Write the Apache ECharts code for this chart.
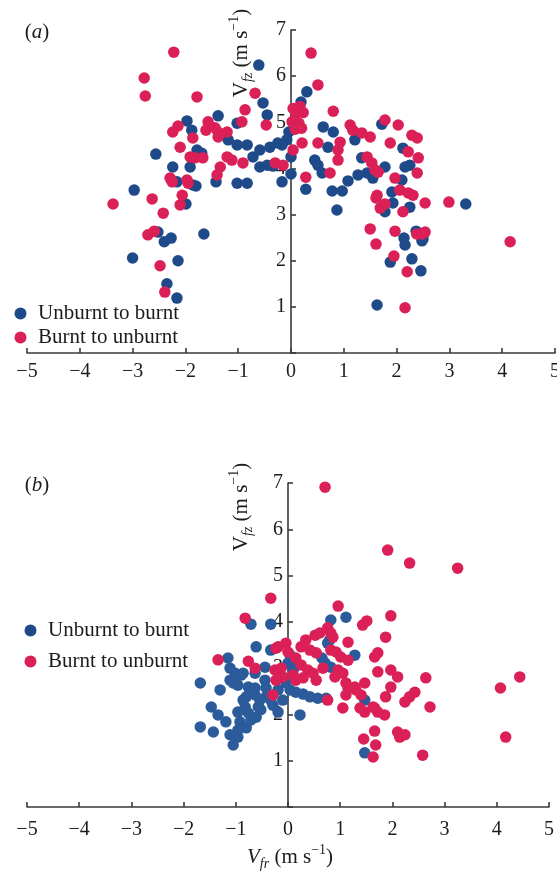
<!DOCTYPE html>
<html>
<head>
<meta charset="utf-8">
<script src="https://cdn.jsdelivr.net/npm/echarts@6/dist/echarts.min.js"></script>
<style>
  html, body { margin: 0; padding: 0; background: #ffffff; }
  #chart { width: 557px; height: 876px; }
</style>
</head>
<body>
<div id="chart"></div>
<script>
// Axis ticks (both panels share them)
const xTickValues = [-5, -4, -3, -2, -1, 0, 1, 2, 3, 4, 5];
const yTickValues = [1, 2, 3, 4, 5, 6, 7];

const seriesNames = ['Unburnt to burnt', 'Burnt to unburnt'];

// Panel (a): [V_fr, V_fz] in m/s
const aUnburntToBurnt = [
  [-2.97,3.53],[-1.99,3.23],[-1.80,3.62],[-2.52,2.62],[-2.40,2.41],[-2.27,2.49],[-1.65,2.58],
  [-3.00,2.06],[-2.14,2.00],[-2.35,1.50],[-2.16,1.19],[-2.16,3.71],[-1.42,3.71],[-1.02,3.68],
  [-0.83,3.68],[-2.56,4.31],[-0.61,6.24],[-0.53,5.42],[-0.45,5.16],[-1.38,5.14],[-1.97,5.03],
  [-1.88,4.83],[-1.02,4.98],[-1.19,4.62],[-1.02,4.51],[-0.83,4.51],[-0.59,4.40],[-0.40,4.46],
  [-0.25,4.55],[-0.08,4.62],[-0.72,4.25],[-1.78,4.40],[-1.69,4.33],[-2.24,4.03],[-1.91,4.03],
  [-0.59,4.03],[-0.45,4.07],[-0.34,4.05],[-0.17,3.71],[-1.86,3.64],[-0.17,4.51],[-0.04,4.79],
  [1.63,1.04],[1.88,1.97],[2.29,2.04],[2.46,1.78],[2.14,2.49],[2.16,2.34],[2.37,2.64],
  [2.48,2.43],[2.50,2.47],[3.31,3.23],[0.87,3.10],[0.28,3.55],[0.78,3.51],[0.97,3.51],
  [1.08,3.73],[1.91,3.49],[1.93,3.25],[1.78,3.06],[2.25,3.16],[0.30,5.66],[0.19,5.44],
  [0.61,4.90],[0.80,4.79],[1.21,4.62],[1.72,4.96],[0.70,4.46],[0.45,4.18],[0.51,4.07],
  [0.59,3.90],[0.00,4.25],[0.00,3.88],[1.27,3.86],[1.44,3.90],[1.55,3.79],[1.34,4.23],
  [1.78,4.03],[2.12,4.44],[2.16,4.03],[2.25,4.07],[2.10,3.75]
];
const aBurntToUnburnt = [
  [-2.22,6.52],[-2.78,5.96],[-2.76,5.57],[-1.78,5.55],[0.38,6.50],[0.51,5.81],[-3.37,3.23],
  [-2.63,3.34],[-2.42,3.03],[-2.71,2.56],[-2.59,2.64],[-2.48,1.89],[-2.39,1.32],[-2.06,3.42],
  [-2.10,3.21],[-2.25,3.71],[-1.95,3.68],[-0.68,5.63],[-0.87,5.27],[-0.47,4.94],[-1.57,5.01],
  [-2.14,4.92],[-2.24,4.79],[-1.44,4.88],[-1.38,4.79],[-1.61,4.83],[-1.21,4.79],[-0.93,5.01],
  [-1.86,4.66],[-1.38,4.68],[-2.10,4.46],[-1.91,4.25],[-1.82,4.23],[-1.67,4.23],[-1.21,4.25],
  [-1.12,4.18],[-0.91,4.12],[-1.34,4.03],[-2.29,3.79],[-1.97,3.75],[-1.40,3.86],[-0.30,4.12],
  [-0.15,4.07],[0.04,5.30],[0.17,5.34],[0.09,5.19],[0.23,5.21],[0.02,5.01],[0.15,4.98],
  [0.08,4.85],[0.20,4.87],[0.80,5.24],[1.12,4.94],[1.17,4.83],[1.34,4.77],[1.50,4.68],
  [1.78,5.05],[2.03,4.94],[2.29,4.72],[2.39,4.66],[0.51,4.55],[0.21,4.55],[0.04,4.40],
  [0.93,4.57],[0.89,4.40],[0.89,4.18],[0.74,3.90],[0.28,3.81],[1.44,4.25],[1.53,4.12],
  [1.59,3.97],[1.65,3.92],[1.88,4.55],[2.22,4.36],[2.41,4.23],[2.39,3.90],[1.97,3.79],
  [2.06,3.53],[2.22,3.47],[2.31,3.42],[1.63,3.42],[1.50,2.69],[1.61,2.36],[1.97,2.64],
  [1.95,2.10],[2.20,1.76],[2.16,0.98],[4.15,2.41],[2.99,3.27],[2.54,3.25],[2.12,3.06],
  [2.38,2.58],[2.48,2.58],[2.54,2.62],[1.61,3.36],[1.69,3.14],[1.78,3.23]
];

// Panel (b): [V_fr, V_fz] in m/s
const bUnburntToBurnt = [
  [0.82,4.04],[1.11,4.10],[-0.33,3.95],[-0.71,3.95],[0.80,3.61],[0.76,3.54],[1.28,3.28],
  [1.47,1.17],[1.47,2.31],[0.23,1.99],[0.65,3.22],[0.71,3.11],[0.82,3.02],[0.04,3.28],
  [0.00,3.11],[0.13,3.07],[0.10,2.96],[-0.04,2.68],[0.04,2.53],[0.15,2.48],[0.29,2.44],
  [0.42,2.38],[0.57,2.35],[0.73,2.35],[-0.61,3.46],[-0.33,3.39],[-1.15,3.22],[-0.44,3.02],
  [-1.11,3.00],[-0.90,2.85],[-1.11,2.74],[-0.96,2.63],[-0.76,2.59],[-0.63,2.57],[-1.68,2.68],
  [-1.30,2.53],[-0.80,2.38],[-0.63,2.42],[-0.54,2.31],[-0.42,2.38],[-0.33,2.31],[-0.42,2.57],
  [-1.47,2.16],[-1.34,1.99],[-1.19,1.84],[-0.96,2.05],[-0.82,2.16],[-0.76,2.03],[-0.92,1.84],
  [-0.96,1.66],[-0.80,1.71],[-0.71,1.88],[-0.57,2.16],[-0.52,2.10],[-0.61,1.94],[-1.68,1.73],
  [-1.43,1.62],[-1.11,1.56],[-0.96,1.51],[-1.05,1.34],[-0.86,2.31],[-1.01,2.89],[-0.86,2.89],
  [-1.05,2.68],[-0.63,2.89],[-0.44,2.74],[-0.19,2.53],[-0.29,2.20],[-0.10,2.31],[-0.19,2.05]
];
const bBurntToUnburnt = [
  [0.71,6.91],[1.91,5.55],[2.33,5.27],[3.25,5.16],[-0.33,4.51],[0.96,4.34],[1.97,4.13],
  [1.43,3.93],[1.51,4.02],[1.87,3.67],[1.15,3.56],[0.76,3.87],[0.82,3.76],[-0.04,3.54],
  [-0.19,3.46],[1.72,3.33],[1.66,3.24],[4.44,2.81],[4.07,2.57],[4.17,1.51],[2.64,2.79],
  [2.72,2.16],[2.58,1.12],[2.43,2.48],[2.33,2.38],[2.24,2.27],[2.10,2.81],[1.97,2.96],
  [1.97,2.59],[1.87,2.38],[1.72,2.92],[2.10,1.62],[2.14,1.51],[2.24,1.56],[1.85,1.99],
  [1.72,2.05],[1.66,2.14],[1.66,1.64],[1.68,1.34],[1.63,1.08],[1.45,1.47],[1.38,2.14],
  [1.47,2.05],[1.05,2.14],[0.76,2.31],[1.15,2.57],[1.30,2.53],[1.47,2.68],[1.40,2.42],
  [1.11,2.68],[-0.29,2.42],[-0.82,4.08],[-0.23,3.43],[0.00,3.35],[-1.34,3.18],[-0.76,3.15],
  [-0.63,3.00],[-0.25,2.96],[-0.13,3.00],[-0.10,2.81],[-0.23,2.74],[0.34,3.61],[0.52,3.71],
  [0.61,3.76],[0.86,3.67],[0.25,3.46],[0.42,3.39],[0.54,3.33],[0.82,3.39],[0.92,3.35],
  [1.01,3.24],[1.15,3.17],[0.15,3.22],[0.25,3.07],[0.38,2.96],[0.48,2.89],[0.54,2.74],
  [0.10,2.85],[0.15,2.74],[0.29,2.79],[0.67,3.00],[0.96,2.96],[1.05,2.89],[0.90,2.81],
  [1.28,2.59],[1.11,2.42],[1.63,2.16]
];

const SERIF = 'Liberation Serif';
const INK = '#1c1c1c';
const AXIS = '#3a3a3a';
const BLUE_A = '#1f4a8a';
const BLUE_B = '#2c5b9b';
const RED = '#db1f57';

const gridBoxes = [
  { left: 27, right: 2, top: 30, height: 323 },
  { left: 27, right: 8, top: 483, height: 324 }
];

const fmtX = v => {
  if (xTickValues.indexOf(v) < 0) return '';
  return v < 0 ? '\u2212' + Math.abs(v) : String(v);
};
const fmtY = v => (yTickValues.indexOf(v) < 0 ? '' : String(v));

function xAxisFor(gridIndex, labelMargin) {
  return {
    gridIndex, type: 'value', min: -5, max: 5, interval: 1,
    axisLine: { onZero: false, lineStyle: { color: AXIS, width: 1.6 } },
    axisTick: { inside: true, length: 5, lineStyle: { color: AXIS, width: 1.6 } },
    axisLabel: { formatter: fmtX, fontFamily: SERIF, fontSize: 20, color: INK, margin: labelMargin },
    splitLine: { show: false }
  };
}
function yAxisFor(gridIndex) {
  return {
    gridIndex, type: 'value', min: 0, max: 7, interval: 1, position: 'left', offset: 0,
    axisLine: { onZero: false, lineStyle: { color: AXIS, width: 1.6 } },
    axisTick: { inside: true, length: 5, lineStyle: { color: AXIS, width: 1.6 } },
    axisLabel: { formatter: fmtY, fontFamily: SERIF, fontSize: 20, color: INK, margin: 5 },
    splitLine: { show: false }
  };
}
function scatter(name, data, idx, color) {
  return {
    name, type: 'scatter', data, xAxisIndex: idx, yAxisIndex: idx,
    symbol: 'circle', symbolSize: 11.5,
    itemStyle: { color, opacity: 1 },
    emphasis: { disabled: true }
  };
}

// Rich styles for the axis titles (subscripts / superscripts)
function titleRich(vItalic) {
  return {
    v: { fontFamily: SERIF, fontSize: 21, fontStyle: vItalic ? 'italic' : 'normal', fill: INK, lineHeight: 28 },
    s: { fontFamily: SERIF, fontSize: 14, fontStyle: 'italic', fill: INK, lineHeight: 14, verticalAlign: 'bottom' },
    n: { fontFamily: SERIF, fontSize: 21, fill: INK, lineHeight: 28 },
    p: { fontFamily: SERIF, fontSize: 14, fill: INK, lineHeight: 16, verticalAlign: 'top' }
  };
}
function panelTag(letter, x, y) {
  return {
    type: 'text', x, y,
    style: {
      text: '{n|(}{i|' + letter + '}{n|)}',
      align: 'center', verticalAlign: 'middle',
      rich: {
        n: { fontFamily: SERIF, fontSize: 21, fill: INK },
        i: { fontFamily: SERIF, fontSize: 21, fontStyle: 'italic', fill: INK }
      }
    }
  };
}
function yTitle(x, y) {
  return {
    type: 'text', x, y, rotation: Math.PI / 2,
    style: {
      text: '{v|V}{s|fz}{n| (m s}{p|\u22121}{n|)}',
      align: 'center', verticalAlign: 'middle',
      rich: titleRich(false)
    }
  };
}

const legendBase = {
  orient: 'vertical', icon: 'circle', itemWidth: 25, itemHeight: 12,
  data: seriesNames, selectedMode: false,
  textStyle: { fontFamily: SERIF, fontSize: 21, color: INK }
};

const option = {
  backgroundColor: '#ffffff',
  animation: false,
  grid: gridBoxes.map(g => Object.assign({ outerBoundsMode: 'none', containLabel: false }, g)),
  legend: [
    Object.assign({}, legendBase, { left: 9.5, top: 298, itemGap: 3 }),
    Object.assign({}, legendBase, { left: 19.5, top: 615, itemGap: 10 })
  ],
  xAxis: [xAxisFor(0, 9), xAxisFor(1, 13)],
  yAxis: [yAxisFor(0), yAxisFor(1)],
  series: [
    scatter(seriesNames[0], aUnburntToBurnt, 0, BLUE_A),
    scatter(seriesNames[1], aBurntToUnburnt, 0, RED),
    scatter(seriesNames[0], bUnburntToBurnt, 1, BLUE_B),
    scatter(seriesNames[1], bBurntToUnburnt, 1, RED)
  ],
  graphic: [
    panelTag('a', 37, 32),
    panelTag('b', 37, 485),
    yTitle(241, 53),
    yTitle(241, 507),
    {
      type: 'text', x: 290, y: 857,
      style: {
        text: '{v|V}{s|fr}{n| (m s}{p|\u22121}{n|)}',
        align: 'center', verticalAlign: 'middle',
        rich: titleRich(true)
      }
    }
  ]
};

const chart = echarts.init(document.getElementById('chart'), null, { renderer: 'canvas' });
chart.setOption(option);

// Move each vertical axis (line, ticks and labels) so it crosses the horizontal axis at V_fr = 0.
const yShift = gridBoxes.map((g, i) => {
  const px = chart.convertToPixel({ gridIndex: i }, [0, 0])[0];
  return { offset: g.left - px };
});
chart.setOption({ yAxis: yShift });
</script>
</body>
</html>
